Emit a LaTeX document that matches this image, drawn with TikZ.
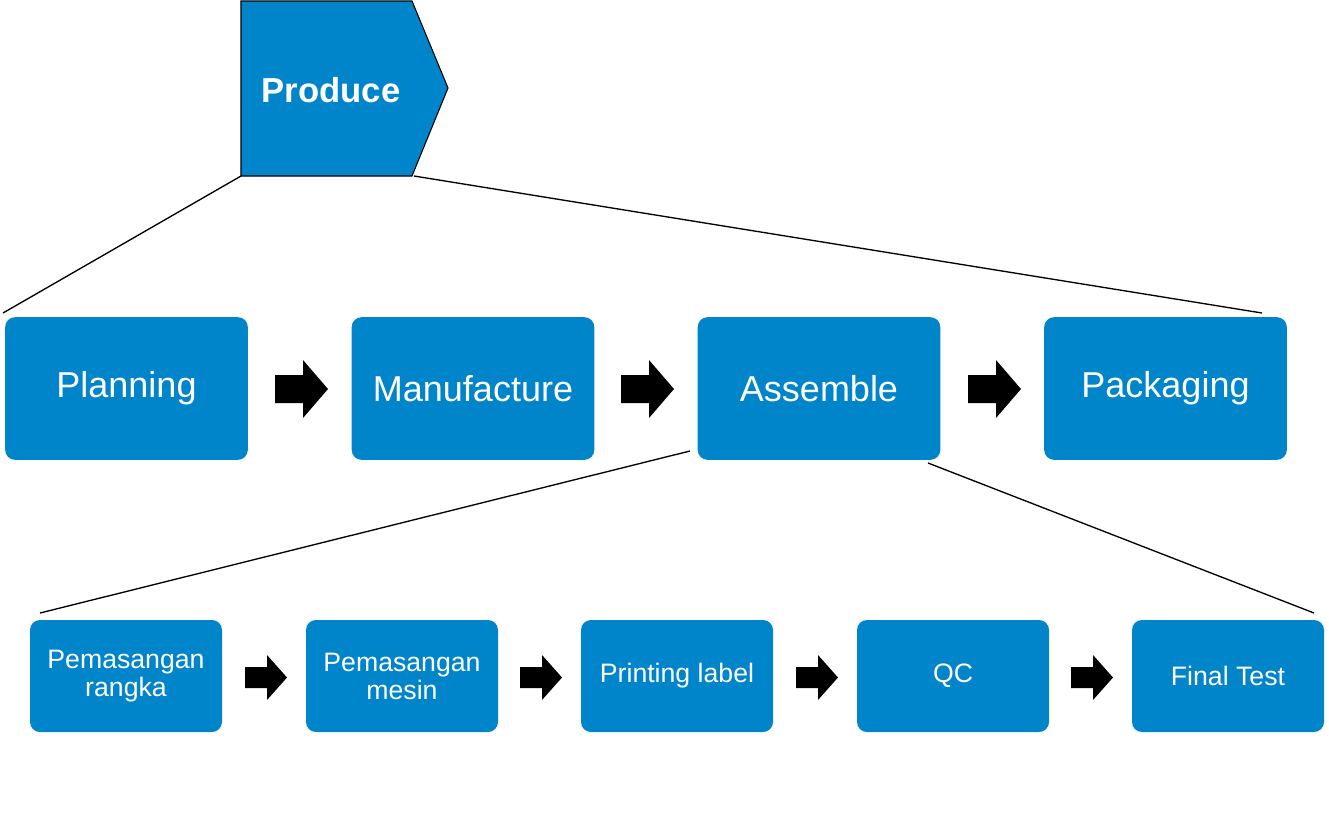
\documentclass[tikz,border=0pt]{standalone}
\usepackage{fontspec}
\setmainfont{Liberation Sans}
\definecolor{blu}{RGB}{0,132,202}
\begin{document}
\begin{tikzpicture}[x=0.75pt,y=-0.75pt,
 box/.style={fill=blu,rounded corners=7.5pt,text=white,align=center},
 big/.style={box,minimum width=182pt,minimum height=107pt,font=\fontsize{27}{30}\selectfont},
 small/.style={box,minimum width=144pt,minimum height=84pt,font=\fontsize{20}{21}\selectfont},
 conn/.style={line width=1pt},
 barrow/.style={fill=black}]
\useasboundingbox (0,0) rectangle (1329,826);
\path[fill=blu,draw=black,line width=0.8pt] (241,1)--(412,1)--(448,88)--(412,176)--(241,176)--cycle;
\node[text=white,font=\bfseries\fontsize{26}{30}\selectfont] (prod) at (331,90) {Produce};
\coordinate (psw) at (241,176); \coordinate (pse) at (414,176);
\node[big] (plan) at (126.5,388.5) {Planning};
\node[big] (manu) at (473,388.5) {Manufacture};
\node[big] (asm) at (819,388.5) {Assemble};
\node[big] (pack) at (1165.5,388.5) {Packaging};
\coordinate (l1) at (3,313); \coordinate (r1) at (1262,313);
\draw[conn] (psw)--(l1); \draw[conn] (pse)--(r1);
\foreach \x in {275,621,968}{
 \fill (\x,375)--(\x+28,375)--(\x+28,360)--(\x+53,389)--(\x+28,418)--(\x+28,403)--(\x,403)--cycle;}
\node[small] (b1) at (126,676) {Pemasangan\\rangka};
\node[small] (b2) at (402,676) {Pemasangan\\mesin};
\node[small] (b3) at (677,676) {Printing label};
\node[small] (b4) at (953,676) {QC};
\node[small] (b5) at (1228,676) {Final Test};
\coordinate (a1) at (690,451); \coordinate (a2) at (928,463);
\coordinate (l2) at (40,613); \coordinate (r2) at (1314,613);
\draw[conn] (a1)--(l2); \draw[conn] (a2)--(r2);
\foreach \x in {245,520,796,1071}{
 \fill (\x,667)--(\x+22,667)--(\x+22,655)--(\x+42,677.5)--(\x+22,700)--(\x+22,688)--(\x,688)--cycle;}
\end{tikzpicture}
\end{document}
